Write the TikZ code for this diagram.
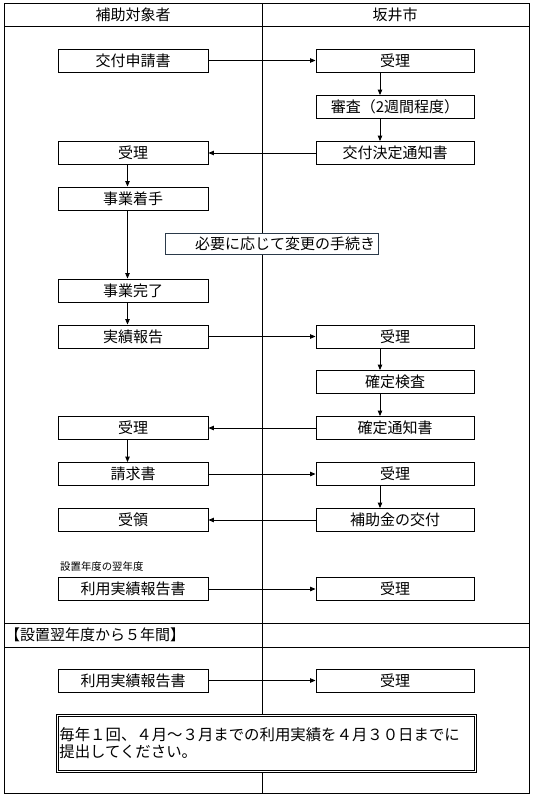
\documentclass[tikz,border=0pt]{standalone}
\usepackage{fontspec}
\setmainfont{Noto Sans CJK JP}
\usetikzlibrary{arrows.meta}
\definecolor{slate}{HTML}{2B3A4A}
\begin{document}
\begin{tikzpicture}[x=1pt,y=-1pt,
  txt/.style={font=\fontsize{15}{15}\selectfont},
  lbox/.style={draw, line width=0.9pt, fill=white, minimum width=150pt, minimum height=23pt, inner sep=0pt, txt},
  rbox/.style={lbox, minimum width=158pt},
  arr/.style={line width=0.9pt, -{Triangle[length=5.5pt,width=4.5pt]}},
  grid/.style={line width=0.9pt}]
\useasboundingbox (0,0) rectangle (533,798);
% table
\draw[grid] (4,3) rectangle (529,793);
\draw[grid] (4,26) -- (529,26);
\draw[grid] (262,3) -- (262,793);
\draw[grid] (4,623) -- (529,623);
\draw[grid] (4,647) -- (529,647);
\node[txt] (h1) at (133,14.5) {補助対象者};
\node[txt] (h2) at (395,14.5) {坂井市};
\coordinate (xl) at (127.5,0);
\coordinate (xr) at (380,0);
% left column
\node[lbox] (a1) at (133,60.5) {交付申請書};
\node[lbox] (a2) at (133,153) {受理};
\node[lbox] (a3) at (133,198.5) {事業着手};
\node[lbox] (a4) at (133,290.5) {事業完了};
\node[lbox] (a5) at (133,336.5) {実績報告};
\node[lbox] (a6) at (133,428) {受理};
\node[lbox] (a7) at (133,474) {請求書};
\node[lbox] (a8) at (133,520) {受領};
\node[lbox] (a9) at (133,589) {利用実績報告書};
\node[lbox] (a10) at (133,680.5) {利用実績報告書};
% right column
\node[rbox] (b1) at (395,60.5) {受理};
\node[rbox] (b2) at (395,107) {審査（2週間程度）};
\node[rbox] (b3) at (395,153) {交付決定通知書};
\node[rbox] (b5) at (395,336.5) {受理};
\node[rbox] (b6) at (395,382) {確定検査};
\node[rbox] (b7) at (395,428) {確定通知書};
\node[rbox] (b8) at (395,474) {受理};
\node[rbox] (b9) at (395,520) {補助金の交付};
\node[rbox] (b10) at (395,589) {受理};
\node[rbox] (b11) at (395,680.5) {受理};
% change box
\node[draw=slate, line width=0.9pt, fill=white, minimum width=213pt, minimum height=21pt, text width=207pt, align=right, inner sep=3pt, txt] (chg) at (271.5,243.5) {必要に応じて変更の手続き};
% small labels
\node[anchor=west, inner sep=0pt, font=\fontsize{10.4}{10.4}\selectfont] (lab) at (60,567) {設置年度の翌年度};
\node[anchor=west, inner sep=0pt, txt] (sec) at (5,635) {【設置翌年度から５年間】};
% note
\node[draw, line width=0.8pt, double, double distance=1.2pt, fill=white, anchor=north west, minimum width=418pt, minimum height=56pt, text width=414pt, align=left, inner sep=2pt, font=\fontsize{15.4}{17}\selectfont] (note) at (57,715) {毎年１回、４月～３月までの利用実績を４月３０日までに\\提出してください。};
% horizontal arrows
\draw[arr] (a1.east) -- (b1.west);
\draw[arr] (b3.west) -- (a2.east);
\draw[arr] (a5.east) -- (b5.west);
\draw[arr] (b7.west) -- (a6.east);
\draw[arr] (a7.east) -- (b8.west);
\draw[arr] (b9.west) -- (a8.east);
\draw[arr] (a9.east) -- (b10.west);
\draw[arr] (a10.east) -- (b11.west);
% vertical arrows
\draw[arr] (a2.south -| xl) -- (a3.north -| xl);
\draw[arr] (a3.south -| xl) -- (a4.north -| xl);
\draw[arr] (a4.south -| xl) -- (a5.north -| xl);
\draw[arr] (a6.south -| xl) -- (a7.north -| xl);
\draw[arr] (b1.south -| xr) -- (b2.north -| xr);
\draw[arr] (b2.south -| xr) -- (b3.north -| xr);
\draw[arr] (b5.south -| xr) -- (b6.north -| xr);
\draw[arr] (b6.south -| xr) -- (b7.north -| xr);
\draw[arr] (b8.south -| xr) -- (b9.north -| xr);
\end{tikzpicture}
\end{document}
